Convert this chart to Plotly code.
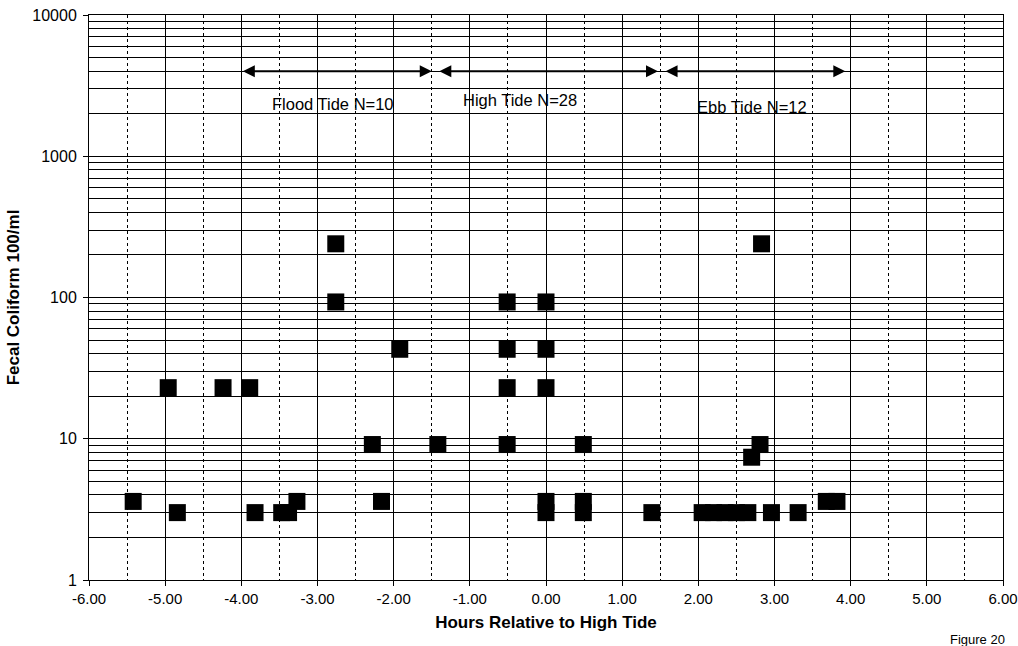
import math
import plotly.graph_objects as go

# ---- data ----
hours = [-5.42, -4.96, -4.84, -4.24, -3.89, -3.82, -3.47, -3.38, -3.27,
         -2.76, -2.76, -2.28, -2.16, -1.92, -1.42,
         -0.51, -0.51, -0.51, -0.51,
         0.0, 0.0, 0.0, 0.0, 0.0,
         0.49, 0.49, 0.49,
         1.39,
         2.05, 2.20, 2.35, 2.50, 2.65,
         2.70, 2.81, 2.83,
         2.96, 3.31, 3.68, 3.82]
coliform = [3.6, 23, 3.0, 23, 23, 3.0, 3.0, 3.0, 3.6,
            240, 93, 9.1, 3.6, 43, 9.1,
            93, 43, 23, 9.1,
            93, 43, 23, 3.6, 3.0,
            9.1, 3.6, 3.0,
            3.0,
            3.0, 3.0, 3.0, 3.0, 3.0,
            7.4, 9.1, 240,
            3.0, 3.0, 3.6, 3.6]

phase_labels = ["Flood Tide N=10", "High Tide N=28", "Ebb Tide N=12"]
phase_start = [-4.00, -1.42, 1.55]
phase_end = [-1.50, 1.47, 3.93]
phase_label_x = [-2.80, -0.34, 2.70]
phase_label_y = [2350, 2500, 2250]
phase_arrow_y = 4000

x_tickvals = [-6, -5, -4, -3, -2, -1, 0, 1, 2, 3, 4, 5, 6]
x_ticktext = ["-6.00", "-5.00", "-4.00", "-3.00", "-2.00", "-1.00", "0.00",
              "1.00", "2.00", "3.00", "4.00", "5.00", "6.00"]
y_tickvals = [1, 10, 100, 1000, 10000]
y_ticktext = ["1", "10", "100", "1000", "10000"]
y_minor_vals = [m * d for d in [1, 10, 100, 1000] for m in range(2, 10)]

FONT = "Liberation Sans, Arial, sans-serif"

fig = go.Figure()
fig.add_trace(go.Scatter(
    x=hours, y=coliform, mode="markers",
    marker=dict(symbol="square", size=17, color="black",
                line=dict(width=0)),
    showlegend=False, hoverinfo="x+y"))

for lab, xs, xe, lx, ly in zip(phase_labels, phase_start, phase_end,
                               phase_label_x, phase_label_y):
    fig.add_annotation(x=xe, y=math.log10(phase_arrow_y),
                       ax=xs, ay=math.log10(phase_arrow_y),
                       xref="x", yref="y", axref="x", ayref="y",
                       text="", showarrow=True, arrowside="end+start",
                       arrowhead=2, arrowsize=1.2, arrowwidth=2,
                       arrowcolor="black", standoff=0, startstandoff=0)
    fig.add_annotation(x=lx, y=math.log10(ly), xref="x", yref="y",
                       text=lab, showarrow=False,
                       font=dict(family=FONT, size=16.5, color="black"))

fig.add_annotation(x=0.94, y=-0.088, xref="paper", yref="paper",
                   xanchor="left", yanchor="top",
                   text="Figure 20", showarrow=False,
                   font=dict(family=FONT, size=13, color="black"))

fig.update_layout(
    width=1018, height=646,
    margin=dict(l=89, r=15, t=15, b=66),
    paper_bgcolor="white", plot_bgcolor="white",
    font=dict(family=FONT, color="black"),
    xaxis=dict(
        range=[-6, 6], tickvals=x_tickvals, ticktext=x_ticktext,
        automargin=False,
        showgrid=True, gridcolor="black", gridwidth=1,
        ticks="outside", ticklen=5, tickcolor="black",
        showline=True, linecolor="black", linewidth=1, mirror=True,
        zeroline=False,
        tickfont=dict(family=FONT, size=15, color="black"),
        minor=dict(dtick=0.5, showgrid=True, gridcolor="black",
                   griddash="dot", gridwidth=1, ticks=""),
        title=dict(text="<b>Hours Relative to High Tide</b>",
                   font=dict(family=FONT, size=17, color="black"),
                   standoff=10),
    ),
    yaxis=dict(
        type="log", range=[0, 4], tickvals=y_tickvals, ticktext=y_ticktext,
        automargin=False, ticklabelstandoff=3,
        showgrid=True, gridcolor="black", gridwidth=1,
        ticks="outside", ticklen=5, tickcolor="black",
        showline=True, linecolor="black", linewidth=1, mirror=True,
        zeroline=False,
        tickfont=dict(family=FONT, size=16, color="black"),
        minor=dict(tickvals=y_minor_vals, showgrid=True, gridcolor="black",
                   gridwidth=1, ticks=""),
        title=dict(text="<b>Fecal Coliform 100/ml</b>",
                   font=dict(family=FONT, size=17, color="black"),
                   standoff=8),
    ),
)

fig.write_html("out.html")
